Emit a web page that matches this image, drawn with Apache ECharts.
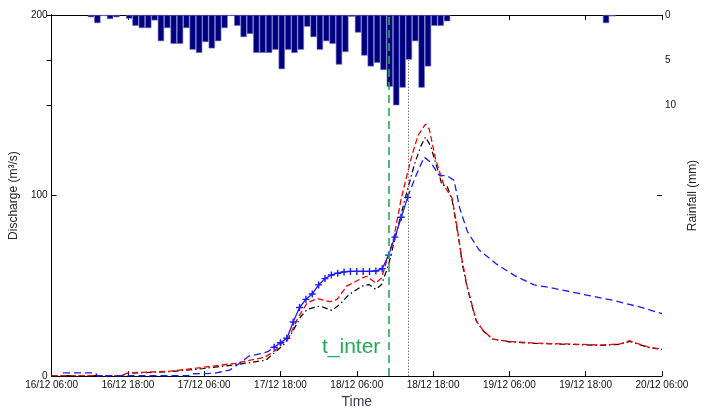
<!DOCTYPE html>
<html>
<head>
    <meta charset="UTF-8">
    <title>Discharge and rainfall</title>
    <style>
        html, body { margin: 0; padding: 0; background: #fff; }
    </style>
</head>
<body>
<div id="chart" style="width: 707px;height: 414px;"></div>
<script src="https://cdn.jsdelivr.net/npm/echarts@6/dist/echarts.min.js"></script>
<script>
    // time axis is in hours after 16/12 06:00
    var timeLabels = ['16/12 06:00', '16/12 18:00', '17/12 06:00', '17/12 18:00', '18/12 06:00',
        '18/12 18:00', '19/12 06:00', '19/12 18:00', '20/12 06:00'];

    // hourly rainfall (mm), first bar centred at hour 6.2
    var rainStart = 6.2;
    var rainMm = [0.25, 0.9, 0.1, 0.45, 0.25, 0, 0.4, 1.2, 1.45, 1.45,
        0.6, 2.9, 1.45, 3.2, 3.2, 1.45, 3.85, 4.2, 3.0, 3.7,
        2.9, 1.45, 0.1, 1.2, 2.45, 2.1, 4.2, 4.2, 4.2, 3.85,
        6.0, 3.85, 4.2, 3.85, 1.3, 2.45, 3.85, 2.9, 3.2, 5.5,
        4.1, 0.2, 1.95, 4.5, 5.7, 5.3, 6.1, 7.95, 10.0, 8.05,
        4.95, 2.9, 8.05, 5.7, 1.2, 1.2, 0.7, 0, 0, 0,
        0, 0, 0, 0, 0, 0, 0, 0, 0, 0,
        0, 0, 0, 0, 0, 0, 0, 0, 0, 0,
        0, 0.9, 0.15];

    var redHours = [0, 11, 12, 18.7, 23.9, 28.9, 33.5, 35.1, 36.1, 37.2, 38.7, 40.2, 41.8, 43.8, 44.9, 46.4,
        48.4, 49.5, 51, 51.9, 52.7, 53.8, 55, 56.5, 57.6, 58.8, 59.4, 60.4, 61.7, 63, 63.8, 64.5,
        65.3, 66.1, 66.8, 67.9, 69.4, 71.9, 76, 81.1, 86.3, 89.4, 90.9, 91.9, 94, 96];
    var redQ = [0.3, 0.3, 1.8, 2.7, 4.9, 7.1, 10.4, 14, 17.7, 20.5, 32, 40.6, 43, 41.2, 42.5, 49.8,
        53.5, 55.3, 51.6, 54.4, 63.7, 76.4, 98.4, 120, 133, 139.6, 136.8, 120, 105.7, 98.4, 81.9, 65.4,
        50.7, 39.7, 30.6, 25.1, 20.5, 19.2, 18.3, 17.8, 17.2, 17.8, 19.6, 18.3, 15.9, 15];

    var blackHours = [0, 11, 12, 18.7, 23.9, 28.9, 33.7, 36.6, 37.8, 39.2, 40.2, 42.2, 44.1, 45.3, 46.8, 48.8,
        49.9, 51, 51.9, 53, 53.9, 55.6, 57.1, 58.1, 58.8, 59.6, 61, 61.4, 62.2, 63, 64.1, 64.6,
        65.3, 66.1, 66.8, 67.9, 69.4, 71.9, 76, 81.1, 86.3, 89.4, 90.9, 91.9, 94, 96];
    var blackQ = [0.3, 0.3, 1.5, 2.5, 4.2, 6.3, 8.8, 17.7, 24, 33, 37, 38.8, 36.4, 39.7, 45.2, 49.8,
        50.7, 48, 50.7, 61.7, 74.5, 98.4, 117.6, 127.6, 132.4, 127.6, 111, 105.7, 105.3, 97.4, 74.6, 62,
        50, 39.3, 30.5, 25, 20.5, 19, 18.1, 17.6, 17, 17.6, 19.2, 18.1, 15.7, 14.8];

    var blueEarlyHours = [1.8, 6.9, 7.2, 21.5, 22, 25.5, 28, 29.5, 31, 33, 34, 35];
    var blueEarlyQ = [1.8, 1.8, 0.2, 0.2, 1.3, 1.5, 3.3, 7, 11, 12.5, 13.5, 16];

    var plusHours = [35, 36, 37, 38, 39, 40, 41, 42, 43, 44, 45, 46, 47, 48, 49, 50, 51, 52, 53, 54, 55, 56];
    var plusQ = [16, 18.5, 21, 30, 38, 42.5, 45.5, 50.5, 54, 56, 57, 57.7, 58, 58, 58, 58, 58.2, 59.5, 67, 77, 88, 99];

    var blueLateHours = [56, 57.3, 58.6, 59.6, 61, 62.2, 63.3, 64.2, 65.4, 67.2, 70, 72.9, 75.9, 78.6, 83.7, 88.8, 92.9, 96];
    var blueLateQ = [99, 111, 121.3, 118.5, 111, 111, 108.4, 92.9, 80, 70, 62, 55.5, 50.5, 48.9, 45.2, 41.6, 37.9, 34.6];

    var tInter = 53;      // 18/12 11:00
    var tForecast = 56.1; // dotted line

    function pairs(xs, ys) {
        return xs.map(function (x, i) { return [x, ys[i]]; });
    }

    // dry hours are left empty so no zero-height bar is drawn
    var rainData = rainMm.map(function (v, i) { return [rainStart + i, v > 0 ? v : '-']; });

    var font = 'Liberation Sans, Arial, sans-serif';
    var chart = echarts.init(document.getElementById('chart'));

    var option = {
        animation: false,
        backgroundColor: '#fff',
        grid: { left: 45, right: 37, top: 15, bottom: 35 },
        xAxis: [{
            type: 'value', min: 0, max: 96, interval: 12,
            name: 'Time', nameLocation: 'middle', nameGap: 17,
            nameTextStyle: { fontFamily: font, fontSize: 14, color: '#3c3c5a' },
            axisLine: { lineStyle: { color: '#000', width: 1 } },
            axisTick: { inside: true, length: 5, lineStyle: { color: '#000' } },
            axisLabel: {
                fontFamily: font, fontSize: 10, color: '#111', margin: 4,
                formatter: function (v) { return timeLabels[Math.round(v / 12)]; }
            },
            splitLine: { show: false }
        }, {
            type: 'value', min: 0, max: 96, interval: 12, position: 'top',
            axisLine: { lineStyle: { color: '#000', width: 1 } },
            axisTick: { inside: true, length: 5, lineStyle: { color: '#000' } },
            axisLabel: { show: false },
            splitLine: { show: false }
        }],
        yAxis: [{
            type: 'value', min: 0, max: 200, interval: 100,
            name: 'Discharge (m\u00b3/s)', nameLocation: 'middle', nameGap: 30, nameRotate: 90,
            nameTextStyle: { fontFamily: font, fontSize: 12, color: '#222' },
            axisLine: { show: true, lineStyle: { color: '#000', width: 1 } },
            axisTick: { show: true, inside: true, length: 5, lineStyle: { color: '#000' } },
            axisLabel: { fontFamily: font, fontSize: 10, color: '#111', margin: 4 },
            splitLine: { show: false }
        }, {
            type: 'value', min: 0, max: 40, interval: 5, inverse: true, position: 'right',
            name: 'Rainfall (mm)', nameLocation: 'middle', nameGap: 20, nameRotate: 90,
            nameTextStyle: { fontFamily: font, fontSize: 12, color: '#222' },
            axisLine: { show: true, lineStyle: { color: '#000', width: 1 } },
            axisTick: { show: true, inside: true, length: 5, customValues: [0, 5, 10], lineStyle: { color: '#000' } },
            axisLabel: { fontFamily: font, fontSize: 10, color: '#111', margin: 3, customValues: [0, 5, 10] },
            splitLine: { show: false }
        }, {
            type: 'value', min: 0, max: 200, interval: 100, position: 'right',
            axisLine: { show: false },
            axisTick: { show: true, inside: true, length: 5, lineStyle: { color: '#000' } },
            axisLabel: { show: false },
            splitLine: { show: false }
        }],
        graphic: [{
            type: 'text', left: 322, top: 337,
            style: { text: 't_inter', fontFamily: font, fontSize: 21, fill: '#22aa55' }
        }],
        series: [{
            type: 'bar', xAxisIndex: 0, yAxisIndex: 1,
            data: rainData, barWidth: '100%',
            itemStyle: { color: '#00007f', borderColor: '#7b7bd8', borderWidth: 0.6 }
        }, {
            type: 'line', data: pairs(blackHours, blackQ), symbol: 'none',
            lineStyle: { color: '#000', width: 1.2, type: [6, 3, 1.5, 3] },
            markLine: {
                silent: true, symbol: 'none', label: { show: false },
                data: [
                    [{ coord: [tForecast, 0] }, { coord: [tForecast, 175] }]
                ],
                lineStyle: { color: '#777', type: [1.5, 1.5], width: 1 }
            }
        }, {
            type: 'line', data: pairs(redHours, redQ), symbol: 'none',
            lineStyle: { color: '#ff0000', width: 1.3, type: [6, 3] }
        }, {
            type: 'line', data: pairs(blueEarlyHours, blueEarlyQ), symbol: 'none',
            lineStyle: { color: '#1a1aff', width: 1.3, type: [7, 4] }
        }, {
            type: 'line', data: pairs(blueLateHours, blueLateQ), symbol: 'none',
            lineStyle: { color: '#1a1aff', width: 1.3, type: [7, 4] },
            markLine: {
                silent: true, symbol: 'none', label: { show: false },
                data: [{ xAxis: tInter }],
                lineStyle: { color: '#22aa55', type: [8, 5], width: 1.6 }
            }
        }, {
            type: 'line', data: pairs(plusHours, plusQ),
            symbol: 'path://M4,0H6V4H10V6H6V10H4V6H0V4H4Z', symbolSize: 7,
            itemStyle: { color: '#1a1aff' },
            lineStyle: { color: '#1a1aff', width: 1.3 }
        }]
    };

    chart.setOption(option);
</script>
</body>
</html>
